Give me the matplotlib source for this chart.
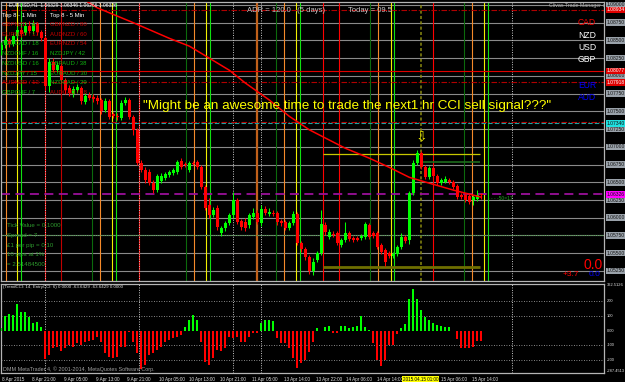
import matplotlib
matplotlib.use('Agg')
import matplotlib.pyplot as plt
from matplotlib.transforms import blended_transform_factory

plt.rcParams['font.family'] = ['Liberation Sans', 'DejaVu Sans']

# EURUSD H1 candles, oldest first
opens = [1.0837, 1.0844, 1.0851, 1.0845, 1.0856, 1.0865, 1.0860, 1.0870, 1.0863, 1.0873,
         1.0862, 1.0853, 1.0786, 1.0820, 1.0808, 1.0814, 1.0794, 1.0783, 1.0774, 1.0780,
         1.0783, 1.0763, 1.0773, 1.0770, 1.0769, 1.0766, 1.0752, 1.0765, 1.0746, 1.0743,
         1.0741, 1.0762, 1.0766, 1.0742, 1.0724, 1.0677, 1.0667, 1.0664, 1.0649, 1.0639,
         1.0652, 1.0656, 1.0660, 1.0663, 1.0664, 1.0680, 1.0676, 1.0667, 1.0677, 1.0679,
         1.0672, 1.0643, 1.0618, 1.0604, 1.0614, 1.0579, 1.0586, 1.0593, 1.0604, 1.0625,
         1.0595, 1.0594, 1.0590, 1.0601, 1.0607, 1.0593, 1.0612, 1.0605, 1.0607, 1.0607,
         1.0595, 1.0594, 1.0586, 1.0593, 1.0605, 1.0564, 1.0556, 1.0545, 1.0525, 1.0540,
         1.0550, 1.0590, 1.0573, 1.0577, 1.0578, 1.0562, 1.0569, 1.0578, 1.0571, 1.0571,
         1.0571, 1.0573, 1.0590, 1.0578, 1.0578, 1.0562, 1.0555, 1.0550, 1.0546, 1.0549,
         1.0559, 1.0573, 1.0569, 1.0635, 1.0677, 1.0691, 1.0672, 1.0657, 1.0670, 1.0659,
         1.0649, 1.0650, 1.0653, 1.0650, 1.0645, 1.0632, 1.0632, 1.0631, 1.0625, 1.0626,
         1.06329]
highs = [1.0848, 1.0856, 1.0853, 1.0860, 1.0870, 1.0869, 1.0876, 1.0877, 1.0879, 1.0876,
         1.0865, 1.0856, 1.0825, 1.0825, 1.0820, 1.0817, 1.0797, 1.0787, 1.0786, 1.0789,
         1.0786, 1.0776, 1.0777, 1.0774, 1.0773, 1.0769, 1.0769, 1.0767, 1.0749, 1.0748,
         1.0766, 1.0770, 1.0769, 1.0745, 1.0727, 1.0681, 1.0672, 1.0669, 1.0653, 1.0662,
         1.0663, 1.0664, 1.0667, 1.0670, 1.0681, 1.0684, 1.0679, 1.0680, 1.0680, 1.0681,
         1.0674, 1.0646, 1.0628, 1.0615, 1.0618, 1.0588, 1.0595, 1.0607, 1.0636, 1.0628,
         1.0598, 1.0600, 1.0607, 1.0614, 1.0611, 1.0618, 1.0617, 1.0614, 1.0611, 1.0610,
         1.0598, 1.0597, 1.0595, 1.0610, 1.0608, 1.0567, 1.0559, 1.0547, 1.0543, 1.0553,
         1.0611, 1.0594, 1.0584, 1.0581, 1.0581, 1.0571, 1.0594, 1.0581, 1.0574, 1.0574,
         1.0577, 1.0594, 1.0593, 1.0581, 1.0581, 1.0564, 1.0557, 1.0553, 1.0552, 1.0562,
         1.0578, 1.0576, 1.0638, 1.0681, 1.0696, 1.0694, 1.0674, 1.0673, 1.0673, 1.0662,
         1.0656, 1.0659, 1.0656, 1.0653, 1.0648, 1.0635, 1.0635, 1.0633, 1.0632, 1.0639,
         1.06346]
lows = [1.0829, 1.0839, 1.0841, 1.0842, 1.0853, 1.0855, 1.0858, 1.0860, 1.0859, 1.0858,
        1.0849, 1.0780, 1.0777, 1.0805, 1.0805, 1.0790, 1.0774, 1.0772, 1.0770, 1.0776,
        1.0760, 1.0760, 1.0766, 1.0763, 1.0760, 1.0746, 1.0749, 1.0739, 1.0741, 1.0738,
        1.0738, 1.0759, 1.0739, 1.0717, 1.0674, 1.0664, 1.0649, 1.0646, 1.0635, 1.0636,
        1.0649, 1.0653, 1.0657, 1.0660, 1.0662, 1.0669, 1.0672, 1.0664, 1.0674, 1.0669,
        1.0641, 1.0611, 1.0600, 1.0601, 1.0583, 1.0574, 1.0581, 1.0590, 1.0600, 1.0591,
        1.0583, 1.0581, 1.0586, 1.0598, 1.0591, 1.0588, 1.0604, 1.0602, 1.0602, 1.0590,
        1.0588, 1.0583, 1.0583, 1.0590, 1.0562, 1.0552, 1.0540, 1.0521, 1.0519, 1.0538,
        1.0547, 1.0576, 1.0570, 1.0573, 1.0562, 1.0559, 1.0566, 1.0567, 1.0566, 1.0567,
        1.0569, 1.0570, 1.0570, 1.0571, 1.0556, 1.0549, 1.0532, 1.0543, 1.0543, 1.0546,
        1.0556, 1.0564, 1.0563, 1.0632, 1.0674, 1.0669, 1.0655, 1.0655, 1.0656, 1.0646,
        1.0646, 1.0649, 1.0648, 1.0641, 1.0626, 1.0626, 1.0622, 1.0619, 1.0618, 1.0624,
        1.06266]
closes = [1.0844, 1.0851, 1.0845, 1.0856, 1.0865, 1.0859, 1.0870, 1.0863, 1.0873, 1.0862,
          1.0853, 1.0786, 1.0820, 1.0808, 1.0815, 1.0794, 1.0780, 1.0776, 1.0782, 1.0784,
          1.0765, 1.0772, 1.0769, 1.0767, 1.0765, 1.0750, 1.0765, 1.0742, 1.0743, 1.0742,
          1.0762, 1.0766, 1.0742, 1.0724, 1.0677, 1.0667, 1.0653, 1.0649, 1.0639, 1.0659,
          1.0659, 1.0662, 1.0664, 1.0667, 1.0679, 1.0672, 1.0674, 1.0677, 1.0676, 1.0672,
          1.0643, 1.0614, 1.0604, 1.0611, 1.0587, 1.0586, 1.0593, 1.0604, 1.0625, 1.0594,
          1.0587, 1.0586, 1.0604, 1.0607, 1.0594, 1.0612, 1.0607, 1.0608, 1.0605, 1.0594,
          1.0593, 1.0586, 1.0593, 1.0605, 1.0564, 1.0556, 1.0545, 1.0525, 1.0538, 1.0550,
          1.0591, 1.0580, 1.0580, 1.0576, 1.0564, 1.0569, 1.0578, 1.0570, 1.0569, 1.0569,
          1.0574, 1.0591, 1.0573, 1.0574, 1.0559, 1.0552, 1.0538, 1.0546, 1.0549, 1.0559,
          1.0573, 1.0567, 1.0635, 1.0677, 1.0691, 1.0672, 1.0657, 1.0670, 1.0659, 1.0649,
          1.0653, 1.0655, 1.0650, 1.0643, 1.0629, 1.0629, 1.0625, 1.0622, 1.0629, 1.0632,
          1.06326]

# TrendCCI histogram, one value per bar
cci = [16, 100, 118, 107, 181, 129, 129, 95, 50, 61, 23,
       -195, -166, -120, -109, -136, -120, -98, -109, -86, -98, -75, -68, -64, -41, -75,
       -154, -177, -188, -177, -109, -109, -7, -75, -154, -263, -234, -166, -154, -132,
       -109, -75, -64, -52, -45, -30,
       27, 73, 107, 73,
       -75, -211, -230,
       -188, -132, -136, -120, -41, -52, -45, -75, -75, -45, -14, -14,
       50, 77, 77, 68,
       -52, -82, -86, -120,
       -188, -256, -222, -200, -143, -75,
       16, 0, 27, 36,
       -14, -18,
       32, 32, 20, 27, 32, 100, 27, 9,
       -82, -200, -240, -200, -98, -98, -23,
       16, 45, 220, 288, 220,
       143, 93, 75, 56, 41, 36, 29, 23, 0, -57, -114, -118, -118, -107, -68, -68]

# red moving average, read at a few bars
ma_bars = [20, 24, 33, 42, 47, 52, 57, 61, 65, 67, 72, 77, 86, 92, 97, 102, 105, 113, 120]
ma_vals = [1.0910, 1.0896, 1.0875, 1.0853, 1.0842, 1.0825, 1.0808, 1.0790, 1.0774, 1.0766,
           1.0743, 1.0724, 1.0698, 1.0684, 1.0671, 1.0657, 1.0652, 1.0639, 1.0629]

# grey horizontal levels and their price labels
levels = [1.0900, 1.0875, 1.0850, 1.0825, 1.0800, 1.0775, 1.0750, 1.0725,
          1.0700, 1.0675, 1.0650, 1.0625, 1.0600, 1.0575, 1.0550, 1.0525]

# session marker lines (bar positions)
red_lines = [10.9, 34.3, 80.4, 84.4, 107.9]
darkred_lines = [15.0]
dkgreen_lines = [22.75, 46.15, 68.75, 92.15, 115.65]
orange_lines = [1.25, 24.65, 48.15, 70.65, 94.15, 117.75]
yellow_lines = [4.0, 27.6, 51.1, 73.75, 97.3, 120.65]
green_lines = [5.0, 28.75, 52.1, 74.65, 98.15, 121.75]
brown_lines = [63.8]
day_lines = [10.8, 34.3, 57.9, 64.9, 127.75]
signal_bar = 105

time_labels = ['8 Apr 2015', '8 Apr 21:00', '9 Apr 05:00', '9 Apr 13:00', '9 Apr 21:00',
               '10 Apr 05:00', '10 Apr 13:00', '10 Apr 21:00', '11 Apr 05:00', '13 Apr 14:00',
               '13 Apr 22:00', '14 Apr 06:00', '14 Apr 14:00', '15 Apr 06:00', '15 Apr 14:00']
time_label_bars = [0.25, 7.75, 15.65, 23.6, 31.5, 39.4, 46.9, 54.8, 62.75, 70.65,
                   78.6, 86.1, 94.0, 110.0, 117.75]

top_1min = ['GBPNZD / 22', 'EURNZD / 17', 'NZDCAD / 18', 'NZDCHF / 16',
            'NZDUSD / 16', 'NZDJPY / 15', 'AUDNZD / 13', 'GBPCHF / 7']
top_1min_up = [False, False, True, True, True, True, False, True]
top_5min = ['GBPNZD / 80', 'AUDNZD / 60', 'EURNZD / 54', 'NZDJPY / 42',
            'GBPAUD / 38', 'EURAUD / 30', 'NZDCAD / 29', 'AUDCAD / 28']
top_5min_up = [False, False, False, True, True, True, True, False]

currencies = ['CAD', 'NZD', 'USD', 'GBP', 'EUR', 'AUD']
currency_cols = ['#ff0000', 'white', 'white', 'white', '#0000ff', '#0000ff']

W, H = 625, 382
fig = plt.figure(figsize=(W / 100, H / 100), dpi=100, facecolor='black')


def ftext(x, y, s, **kw):
    kw.setdefault('va', 'center')
    fig.text(x / W, 1 - y / H, s, **kw)


ax = fig.add_axes([1 / W, 1 - 281 / H, 603 / W, 279 / H], facecolor='black')
sub = fig.add_axes([1 / W, 1 - 373 / H, 603 / W, 89.5 / H], facecolor='black')

n = len(closes)
idx = list(range(n))
for a in (ax, sub):
    a.set_xlim(-0.075, 150.675)
    a.set_xticks([])
    a.set_yticks([])
    for sp in a.spines.values():
        sp.set_color('#b4b4b4')
        sp.set_linewidth(0.9)
ax.set_ylim(1.05108, 1.09042)
sub.set_ylim(-287.4513, 322.5126)

# --- main panel ---
for lv in levels:
    ax.axhline(lv, color='#8a8a8a', lw=0.8, zorder=1)

lw_v = 0.8
for x in red_lines:
    ax.axvline(x, color='#ff0000', lw=lw_v, zorder=1.5)
for x in darkred_lines:
    ax.axvline(x, color='#c00000', lw=lw_v, zorder=1.5)
for x in dkgreen_lines:
    ax.axvline(x, color='#0c6a0c', lw=lw_v, zorder=1.5)
for x in orange_lines:
    ax.axvline(x, color='#f58a2a', lw=lw_v, zorder=1.5)
for x in yellow_lines:
    ax.axvline(x, color='#f0f000', lw=lw_v, zorder=1.5)
for x in green_lines:
    ax.axvline(x, color='#10e010', lw=lw_v, zorder=1.5)
for x in brown_lines:
    ax.axvline(x, color='#c0601a', lw=1.6, zorder=1.5)
for a in (ax, sub):
    for x in day_lines:
        a.axvline(x, color='#c8c8c8', lw=0.7, ls=(0, (1, 1.5)), zorder=1.6)
ax.axvline(signal_bar, color='#8a8a10', lw=1.1, ls=(0, (2, 1.5)), zorder=1.6)

# horizontal objects
ax.axhline(1.0807, color='#e00000', lw=0.8, zorder=1.7)
ax.axhline(1.0893, color='#b00000', lw=0.8, ls=(0, (5, 1.5, 1, 1.5)), zorder=1.7)
ax.axhline(1.0791, color='#b00000', lw=0.8, ls=(0, (5, 1.5, 1, 1.5)), zorder=1.7)
ax.axhline(1.0735, color='#c00000', lw=0.8, ls=(0, (5, 1.5, 1, 1.5)), zorder=1.7)
ax.axhline(1.0733, color='#1fa0a0', lw=0.8, ls=(0, (4, 2)), zorder=1.7)
ax.axhline(1.0633, color='#9a109a', lw=1.3, ls=(0, (5, 3)), zorder=1.7)
ax.axhline(1.0575, color='#3c8c3c', lw=0.8, ls=(0, (1, 1)), zorder=1.7)
ax.hlines(1.0690, 80.5, 119.6, color='#c8c800', lw=0.9, zorder=1.7)
ax.hlines(1.0678, 104.8, 119.6, color='#1c6c1c', lw=1.2, zorder=1.7)
ax.hlines(1.0531, 80.5, 119.6, color='#6e6e00', lw=2.0, zorder=1.7)

# candles
cols = ['#00ff00' if c > o else '#ff0000' for o, c in zip(opens, closes)]
bottoms = [min(o, c) for o, c in zip(opens, closes)]
heights = [max(abs(c - o), 0.00005) for o, c in zip(opens, closes)]
ax.vlines(idx, lows, highs, colors=cols, lw=0.75, zorder=3)
ax.bar(idx, heights, bottom=bottoms, width=0.72, color=cols, lw=0, zorder=3.1)
ax.plot(ma_bars, ma_vals, color='#ff0000', lw=1.1, zorder=3.5)

# signal arrow
ax.text(signal_bar, 1.0714, '\u21e9', color='#e8e800', fontsize=10,
        family='DejaVu Sans', ha='center', va='center', zorder=4)

# right price scale labels
tr = blended_transform_factory(ax.transAxes, ax.transData)
for lv in levels:
    ax.text(1.004, lv, f'{lv:.5f}', transform=tr, fontsize=3.6, color='#151515',
            va='center', ha='left', clip_on=False,
            bbox=dict(boxstyle='square,pad=0.15', fc='#9aa2aa', ec='none'))
for lv, s, fc, tc in [(1.0893, '1.08934', '#e00000', 'white'),
                      (1.0807, '1.08077', '#e00000', 'white'),
                      (1.0791, '1.07918', '#e00000', 'white'),
                      (1.0733, '1.07340', '#20e0e0', '#101010'),
                      (1.0633, '1.06326', '#ff00ff', '#101010')]:
    ax.text(1.004, lv, s, transform=tr, fontsize=3.6, color=tc, va='center', ha='left',
            clip_on=False, zorder=5,
            bbox=dict(boxstyle='square,pad=0.15', fc=fc, ec='none'))

# --- indicator panel ---
sub_cols = ['#00ff00' if v > 0 else '#ff0000' for v in cci]
sub.bar(idx, cci, width=0.5, color=sub_cols, lw=0, zorder=3)
for lv in (200, 100, -100, -200):
    sub.axhline(lv, color='#b4b4b4', lw=0.6, ls=(0, (1, 2)), zorder=1)
tr2 = blended_transform_factory(sub.transAxes, sub.transData)
for lv, s in [(322.5126, '322.5126'), (200, '200'), (100, '100'), (0, '0.00'),
              (-100, '-100'), (-200, '-200'), (-287.4513, '-287.4513')]:
    va = 'top' if lv > 300 else ('bottom' if lv < -280 else 'center')
    sub.text(1.004, lv, s, transform=tr2, fontsize=2.9, color='#e0e0e0', va=va,
             ha='left', clip_on=False)

# time axis
trx = blended_transform_factory(sub.transData, sub.transAxes)
for b, s in zip(time_label_bars, time_labels):
    sub.text(b, -0.045, s, transform=trx, fontsize=3.3, color='#e0e0e0', va='top',
             ha='left', clip_on=False)
sub.text(signal_bar - 4.6, -0.045, '2015.04.15 01:00', transform=trx, fontsize=3.3,
         color='black', va='top', ha='left', clip_on=False, zorder=6,
         bbox=dict(boxstyle='square,pad=0.2', fc='#ffff00', ec='none'))

# --- overlay texts ---
ftext(9, 5, 'EURUSD,H1  1.06329 1.06346 1.06266 1.06326', color='white', fontsize=3.6)
ftext(2, 15, 'Top 8 - 1 Min', color='white', fontsize=4.3)
ftext(50, 15, 'Top 8 - 5 Min', color='white', fontsize=4.3)
for k in range(8):
    ftext(2, 24.3 + 9.75 * k, top_1min[k], fontsize=4.3,
          color='#10b010' if top_1min_up[k] else '#c80000')
    ftext(50, 24.3 + 9.75 * k, top_5min[k], fontsize=4.3,
          color='#10b010' if top_5min_up[k] else '#c80000')
ftext(247, 10, 'ADR = 120.0   (5 days)', color='#c8c8c8', fontsize=5.5)
ftext(348, 10, 'Today = 09.5', color='#c8c8c8', fontsize=5.5)
ftext(549, 6, 'Clivas Trade Manager \u25cb', color='#b0b0b0', fontsize=3.8)
for k, (cur, cc) in enumerate(zip(currencies, currency_cols)):
    yy = [22.5, 35, 47.5, 60, 85, 97.5][k]
    ftext(578, yy, cur, color=cc, fontsize=6.2)

ftext(143, 106, '"Might be an awesome time to trade the next1 hr CCI sell signal???"',
      color='#ffff00', fontsize=9.7)

info = ['Tick Value = 0.1000', 'Spread = 7', '\u00a31 per pip = 0.10', '10 pips at 1%',
        '= 2.51484500']
for k, s in enumerate(info):
    ftext(7, 225.7 + 9.75 * k, s, color='#2e9a2e', fontsize=4.4)

ftext(488, 199, '- - - -50=17', color='#20a020', fontsize=3.6)
ftext(583, 265, '0.0', color='#ff0000', fontsize=10)
ftext(563, 274.5, '+3.7', color='#ff0000', fontsize=6)
ftext(589, 274.5, '0.0', color='#0000ff', fontsize=6)

ftext(3, 287, '(TrendCCI: 14, EntryCCI: 6) 0.0000 -63.6429 -63.6429 0.0000',
      color='#e0e0e0', fontsize=3.2)
ftext(3, 369, 'DMM MetaTrader 4, \u00a9 2001-2014, MetaQuotes Software Corp.',
      color='#a0a0a0', fontsize=3.9)

fig.savefig('out.png', dpi=100, facecolor='black')
